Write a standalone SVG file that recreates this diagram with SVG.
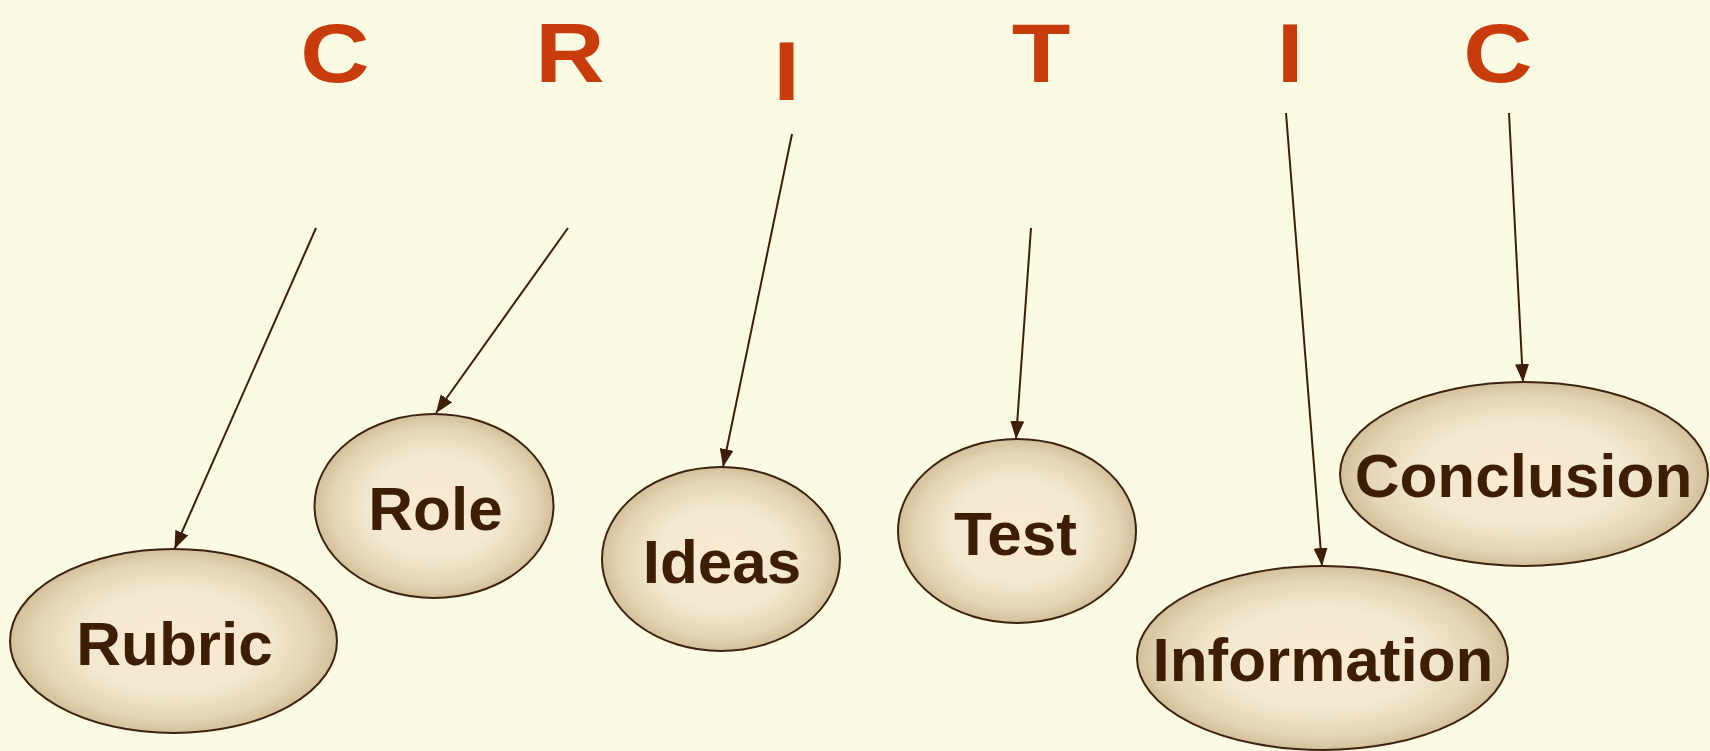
<svg xmlns="http://www.w3.org/2000/svg" width="1710" height="751" viewBox="0 0 1710 751">
<defs>
<radialGradient id="g" cx="50%" cy="50%" r="50%">
<stop offset="0" stop-color="#fbead2"/>
<stop offset="0.55" stop-color="#f3e8d0"/>
<stop offset="0.85" stop-color="#e4d5b5"/>
<stop offset="1" stop-color="#d3c09a"/>
</radialGradient>
<marker id="ah" viewBox="0 0 18 14" refX="18" refY="7" markerWidth="18" markerHeight="14" markerUnits="userSpaceOnUse" orient="auto">
<path d="M0,0 L18,7 L0,14 Z" fill="#3d1f08"/>
</marker>
</defs>
<style>
.bg{fill:#fbfbe3}
.let{font-family:"Liberation Sans",Arial,sans-serif;font-weight:bold;font-size:96px;fill:#c83c0c;text-anchor:middle}
.node ellipse{fill:url(#g);stroke:#3d2210;stroke-width:2}
.node text{font-family:"Liberation Sans",Arial,sans-serif;font-weight:bold;font-size:62px;fill:#3d1e05;text-anchor:middle}
.conn line{stroke:#3d1f08;stroke-width:2;marker-end:url(#ah)}
</style>
<rect class="bg" x="0" y="0" width="1710" height="751"/>
<g id="letters">
<text class="let" transform="translate(335,82) scale(1,0.86)">C</text>
<text class="let" transform="translate(570,82) scale(1,0.86)">R</text>
<text class="let" transform="translate(786.5,100) scale(1,0.86)">I</text>
<text class="let" transform="translate(1041,82) scale(1,0.86)">T</text>
<text class="let" transform="translate(1290,82) scale(1,0.86)">I</text>
<text class="let" transform="translate(1498,82) scale(1,0.86)">C</text>
</g>
<g id="connectors" class="conn">
<line x1="316" y1="228" x2="174.5" y2="549"/>
<line x1="568" y1="228" x2="436" y2="413"/>
<line x1="792" y1="134" x2="723" y2="467"/>
<line x1="1031" y1="228" x2="1016" y2="439"/>
<line x1="1286" y1="113" x2="1322" y2="566"/>
<line x1="1509" y1="113" x2="1523" y2="382"/>
</g>
<g id="rubric" class="node">
<ellipse cx="173.5" cy="641" rx="163.5" ry="92"/>
<text x="174.5" y="665">Rubric</text>
</g>
<g id="role" class="node">
<ellipse cx="434" cy="506" rx="119.5" ry="92"/>
<text x="435.5" y="530">Role</text>
</g>
<g id="ideas" class="node">
<ellipse cx="721" cy="559" rx="119" ry="92"/>
<text x="722" y="583">Ideas</text>
</g>
<g id="test" class="node">
<ellipse cx="1017" cy="531" rx="119" ry="92"/>
<text x="1015.5" y="555">Test</text>
</g>
<g id="information" class="node">
<ellipse cx="1322.5" cy="658" rx="185.5" ry="92"/>
<text x="1323" y="681">Information</text>
</g>
<g id="conclusion" class="node">
<ellipse cx="1524" cy="474" rx="184" ry="92"/>
<text x="1523.5" y="497">Conclusion</text>
</g>
</svg>
